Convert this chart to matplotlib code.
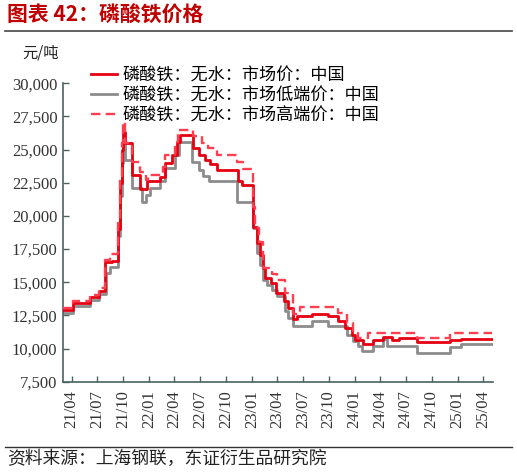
import matplotlib
matplotlib.use("Agg")
import matplotlib.pyplot as plt
import matplotlib.dates as mdates
import matplotlib.ticker as mticker
import pandas as pd

# ---- data (step change points) ----
mid_dates = ["2021-03-01", "2021-04-07", "2021-06-05", "2021-07-08", "2021-07-28", "2021-08-21",
             "2021-09-14", "2021-09-20", "2021-09-26", "2021-09-30", "2021-10-08", "2021-11-01",
             "2021-11-28", "2021-12-26", "2022-02-09", "2022-02-26", "2022-03-22", "2022-04-09",
             "2022-04-21", "2022-06-07", "2022-06-28", "2022-07-18", "2022-08-05", "2022-08-31",
             "2022-11-14", "2022-11-26", "2023-01-05", "2023-01-19", "2023-01-31", "2023-02-08",
             "2023-02-17", "2023-03-10", "2023-03-28", "2023-04-27", "2023-05-08", "2023-05-28",
             "2023-06-10", "2023-06-27", "2023-08-02", "2023-09-30", "2023-11-05", "2023-11-29",
             "2023-12-22", "2024-01-03", "2024-02-01", "2024-03-07", "2024-04-12", "2024-05-14",
             "2024-06-08", "2024-08-09", "2024-12-05", "2025-01-15", "2025-05-05"]
mid_vals = [12900, 13400, 13850, 14350, 16500, 16600,
            19000, 22500, 25000, 26300, 25500, 23100,
            22000, 22600, 22900, 24000, 24600, 25600,
            26100, 25100, 24600, 24200, 23900, 23500,
            22600, 22350, 19200, 17950, 17050, 16100,
            15350, 14950, 14200, 13560, 13060, 12250,
            12420, 12420, 12600, 12420, 12050, 11550,
            11050, 10670, 10380, 10670, 10850, 10620,
            10800, 10520, 10620, 10720, 10720]

low_dates = ["2021-03-01", "2021-04-07", "2021-06-05", "2021-07-08", "2021-07-31", "2021-08-15",
             "2021-09-14", "2021-09-20", "2021-09-26", "2021-09-30", "2021-10-08", "2021-11-01",
             "2021-12-06", "2021-12-21", "2022-01-04", "2022-02-09", "2022-02-26", "2022-04-03",
             "2022-04-18", "2022-06-03", "2022-06-28", "2022-07-12", "2022-08-03", "2022-11-10",
             "2023-01-05", "2023-01-19", "2023-01-31", "2023-02-11", "2023-02-23", "2023-03-12",
             "2023-03-30", "2023-04-29", "2023-05-08", "2023-05-28", "2023-08-02", "2023-09-30",
             "2023-12-05", "2023-12-27", "2024-01-15", "2024-01-27", "2024-03-07", "2024-04-10",
             "2024-04-24", "2024-08-09", "2024-12-05", "2025-01-15", "2025-05-05"]
low_vals = [12680, 13180, 13630, 14130, 15700, 16150,
            18500, 21500, 24000, 25500, 24200, 22100,
            21080, 21600, 22100, 22600, 23600, 24600,
            25600, 24100, 23470, 23000, 22600, 21080,
            19080, 17200, 16320, 15190, 14800, 14440,
            13930, 12800, 12300, 11670, 12100, 11670,
            11050, 10540, 10170, 9840, 10170, 10720,
            10170, 9670, 10100, 10320, 10320]

high_dates = ["2021-03-01", "2021-04-07", "2021-06-05", "2021-07-08", "2021-07-28", "2021-08-15",
              "2021-09-14", "2021-09-20", "2021-09-26", "2021-09-30", "2021-10-08", "2021-11-01",
              "2021-11-28", "2021-12-21", "2021-12-28", "2022-02-20", "2022-02-26", "2022-04-03",
              "2022-04-15", "2022-06-07", "2022-07-07", "2022-07-30", "2022-08-29", "2022-11-08",
              "2022-12-02", "2023-01-05", "2023-01-13", "2023-01-25", "2023-02-08", "2023-03-12",
              "2023-03-30", "2023-04-29", "2023-05-28", "2023-06-21", "2023-11-05", "2023-12-05",
              "2023-12-27", "2024-01-15", "2024-02-19", "2024-08-09", "2024-12-05", "2025-05-05"]
high_vals = [13060, 13560, 14010, 14560, 16700, 17150,
             19500, 23000, 25500, 27100, 25500, 24100,
             23340, 22720, 23100, 23720, 24600, 25600,
             26500, 26000, 25480, 25100, 24600, 24100,
             23550, 20700, 19100, 18070, 16070, 15650,
             15190, 14190, 12600, 13100, 12680, 11930,
             11180, 10800, 11150, 10800, 11150, 11150]

series_labels = ["磷酸铁：无水：市场价：中国", "磷酸铁：无水：市场低端价：中国", "磷酸铁：无水：市场高端价：中国"]
title_text = "图表 42：磷酸铁价格"
unit_text = "元/吨"
source_text = "资料来源：上海钢联，东证衍生品研究院"

cjk = ["Noto Sans CJK SC", "DejaVu Sans"]
serif = ["Liberation Serif", "DejaVu Serif"]

fig = plt.figure(figsize=(5.17, 4.75), dpi=100)
ax = fig.add_axes([63 / 517, 1 - 381.7 / 475, (492.7 - 63) / 517, (381.7 - 83.3) / 475])

axis_col = "#4a6262"
ax.plot(pd.to_datetime(mid_dates), mid_vals, drawstyle="steps-post", color="#e60012", lw=2.0,
        label=series_labels[0], zorder=3)
ax.plot(pd.to_datetime(low_dates), low_vals, drawstyle="steps-post", color="#8c8c8c", lw=2.0,
        label=series_labels[1], zorder=2)
ax.plot(pd.to_datetime(high_dates), high_vals, drawstyle="steps-post", color="#ff3f4f", lw=1.7,
        ls=(0, (4, 2.2)), label=series_labels[2], zorder=4)

ax.set_xlim(pd.Timestamp("2021-03-01"), pd.Timestamp("2025-05-06"))
ax.set_ylim(7500, 30000)
ax.yaxis.set_major_locator(mticker.MultipleLocator(2500))
ax.yaxis.set_major_formatter(mticker.FuncFormatter(lambda v, p: f"{int(v):,}"))
ax.xaxis.set_major_locator(mdates.MonthLocator(bymonth=[1, 4, 7, 10]))
ax.xaxis.set_major_formatter(mdates.DateFormatter("%y/%m"))

for s in ["top", "right"]:
    ax.spines[s].set_visible(False)
for s in ["left", "bottom"]:
    ax.spines[s].set_color(axis_col)
    ax.spines[s].set_linewidth(1.2)
ax.tick_params(axis="both", direction="in", length=4, width=1, color=axis_col)
ax.tick_params(axis="y", labelsize=12, pad=4, labelcolor="#333333")
ax.tick_params(axis="x", labelsize=12, pad=6, labelrotation=90, labelcolor="#333333")
for lbl in ax.get_xticklabels() + ax.get_yticklabels():
    lbl.set_family(serif)

leg = ax.legend(loc="upper left", bbox_to_anchor=(0.05, 1.08), frameon=False,
                prop={"family": cjk, "size": 12.3}, handlelength=1.5, handletextpad=0.3,
                labelspacing=0.12, borderaxespad=0)

fig.text(7 / 517, 1 - 15 / 475, title_text, color="#c00000", fontsize=15, fontweight="bold",
         family=cjk, va="center", ha="left")
fig.add_artist(plt.Line2D([5 / 517, 512 / 517], [1 - 31 / 475, 1 - 31 / 475],
                          color="#555555", lw=1.3, transform=fig.transFigure))
fig.text(22 / 517, 1 - 53 / 475, unit_text, fontsize=11, family=cjk, va="center", ha="left",
         color="#222222")
fig.add_artist(plt.Line2D([5 / 517, 512 / 517], [1 - 447 / 475, 1 - 447 / 475],
                          color="#333333", lw=1.0, transform=fig.transFigure))
fig.text(7 / 517, 1 - 459 / 475, source_text, fontsize=12.8, family=cjk, va="center", ha="left",
         color="#222222")

fig.savefig("out.png", dpi=100)
